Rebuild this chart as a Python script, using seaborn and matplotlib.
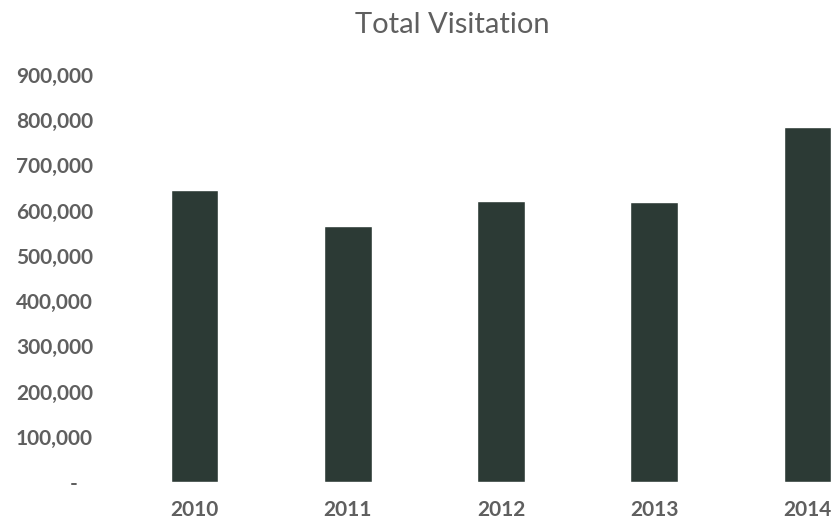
import matplotlib
matplotlib.use("Agg")
import matplotlib.pyplot as plt
from matplotlib.ticker import FuncFormatter
import seaborn as sns
import pandas as pd

years = ["2010", "2011", "2012", "2013", "2014"]
visitors = [646000, 565000, 622000, 620000, 785000]
yticks = [0, 100000, 200000, 300000, 400000, 500000, 600000, 700000, 800000, 900000]

bar_color = "#2c3a35"
text_color = "#5f5f5f"

sns.set_theme(style="white")
plt.rcParams["font.family"] = ["Lato", "DejaVu Sans"]

df = pd.DataFrame({"year": years, "visitors": visitors})

fig = plt.figure(figsize=(8.32, 5.19), dpi=100)
# axes run past the right edge so the last bar is cut off like the reference
ax = fig.add_axes([118 / 832, 37 / 519, 766 / 832, 407 / 519])

sns.barplot(data=df, x="year", y="visitors", color=bar_color, width=0.31,
            saturation=1, ax=ax)

ax.set_xlim(-0.5, 4.5)
ax.set_ylim(0, 900000)
ax.set_yticks(yticks)
ax.yaxis.set_major_formatter(FuncFormatter(lambda v, p: "-   " if v == 0 else f"{int(v):,}"))
ax.set_xlabel("")
ax.set_ylabel("")
sns.despine(ax=ax, left=True, bottom=True)
ax.tick_params(axis="both", length=0, colors=text_color, labelsize=15)
ax.tick_params(axis="y", pad=18)
ax.tick_params(axis="x", pad=13)
for lab in ax.get_xticklabels() + ax.get_yticklabels():
    lab.set_fontweight("bold")

fig.text(452 / 832, 1 - 25 / 519, "Total Visitation", ha="center", va="center",
         fontsize=21, color=text_color)

fig.savefig("out.png", dpi=100)
